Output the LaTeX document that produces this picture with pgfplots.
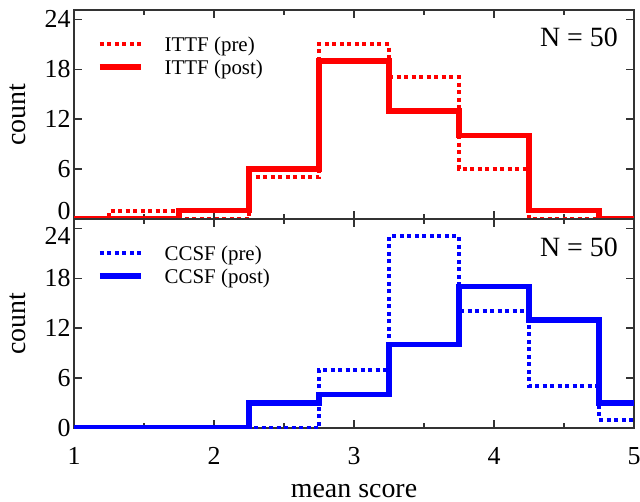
\documentclass[border=0pt]{standalone}
\usepackage{fontspec}
\setmainfont{Liberation Serif}
\usepackage{pgfplots}
\pgfplotsset{compat=1.18}

\pgfplotsset{
  hist/.style={
    scale only axis, width=560bp, height=209bp,
    xmin=1, xmax=5, ymin=0, ymax=25.1,
    xtick={1,2,3,4,5}, minor xtick={1.5,2.5,3.5,4.5},
    tick align=inside, major tick length=8bp, minor tick length=5bp,
    every tick/.style={black!80, line width=1.2bp},
    axis line style={black!80, line width=2bp},
    tick label style={font=\fontsize{26}{26}\selectfont},
    xticklabel style={yshift=-16bp},
    /pgf/number format/assume math mode=true,
    label style={font=\fontsize{28}{28}\selectfont},
    ylabel={count},
    ylabel style={at={(axis description cs:-0.1,0.5)}, anchor=center},
    legend style={draw=none, fill=none, inner sep=0pt,
      at={(axis description cs:0,1)}, anchor=north west,
      xshift=23bp, yshift=-27bp, row sep=7bp,
      font=\fontsize{21}{21}\selectfont,
      nodes={inner sep=0pt}},
    legend cell align=left,
    legend image code/.code={
      \draw[##1] (0bp,1bp) -- (41bp,1bp);
      \path (62bp,1bp);
    },
  },
  pre/.style={const plot, line width=4bp, dash pattern=on 4bp off 3.5bp},
  post/.style={const plot, line width=5.5bp},
}

\begin{document}
\begin{tikzpicture}
\useasboundingbox (-74bp,-283bp) rectangle (566bp,219bp);

% upper panel: ITTF
\begin{axis}[hist, at={(0,0)}, anchor=south west,
  xticklabels={},
  ytick={6,12,18,24},
  extra y ticks={0},
  extra y tick style={yticklabel style={yshift=8bp}},
]
\addplot[pre, red] coordinates {(1,0) (1.25,1) (1.75,0) (2.25,5) (2.75,21) (3.25,17) (3.75,6) (4.25,0) (5,0)};
\addlegendentry{ITTF (pre)}
\addplot[post, red] coordinates {(1,0) (1.75,1) (2.25,6) (2.75,19) (3.25,13) (3.75,10) (4.25,1) (4.75,0) (5,0)};
\addlegendentry{ITTF (post)}
\node[anchor=east, inner sep=0pt, font=\fontsize{28}{28}\selectfont, xshift=-16bp, yshift=-27bp]
  at (rel axis cs:1,1) {N = 50};
\end{axis}

% lower panel: CCSF
\begin{axis}[hist, at={(0,0)}, anchor=north west,
  ytick={0,6,12,18},
  extra y ticks={24},
  extra y tick style={yticklabel style={yshift=-8bp}},
  xlabel={mean score},
  xlabel style={at={(axis description cs:0.5,0)}, anchor=base, yshift=-69bp},
]
\addplot[pre, blue] coordinates {(1,0) (2.75,7) (3.25,23) (3.75,14) (4.25,5) (4.75,1) (5,1)};
\addlegendentry{CCSF (pre)}
\addplot[post, blue] coordinates {(1,0) (2.25,3) (2.75,4) (3.25,10) (3.75,17) (4.25,13) (4.75,3) (5,3)};
\addlegendentry{CCSF (post)}
\node[anchor=east, inner sep=0pt, font=\fontsize{28}{28}\selectfont, xshift=-16bp, yshift=-28bp]
  at (rel axis cs:1,1) {N = 50};
\end{axis}
\end{tikzpicture}
\end{document}
